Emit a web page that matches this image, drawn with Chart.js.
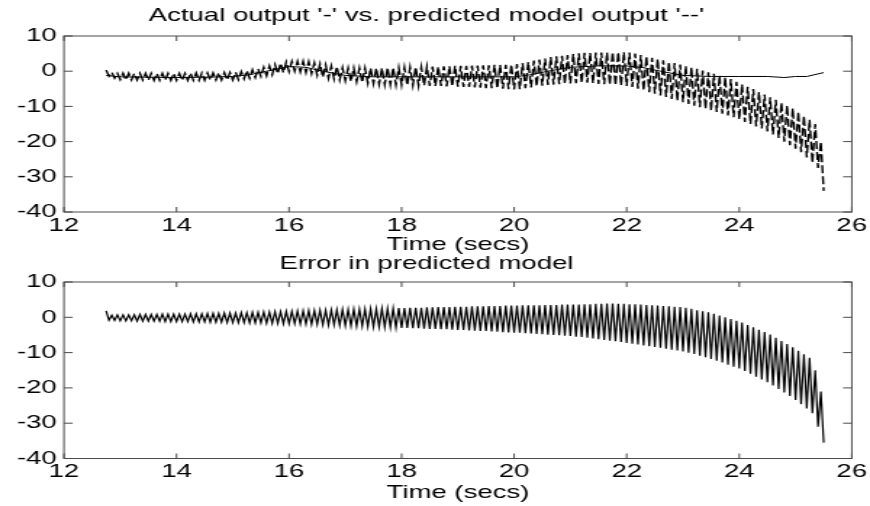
<!DOCTYPE html>
<html>
<head>
<meta charset="utf-8">
<script src="https://cdn.jsdelivr.net/npm/chart.js@4.4.1/dist/chart.umd.min.js"></script>
<style>
  html, body { margin: 0; padding: 0; background: #fff; }
  body { width: 870px; height: 506px; position: relative; overflow: hidden; }
  canvas { position: absolute; left: 0; }
</style>
</head>
<body>
<!-- drawn narrow and stretched sideways, like the wide old plot -->
<canvas id="topPlot" width="600" height="256" style="top:0;width:870px;height:256px"></canvas>
<canvas id="errPlot" width="600" height="258" style="top:248px;width:870px;height:258px"></canvas>
<script>
// sample time of the simulated data
const startTime = 12.75;
const sampleTime = 0.05;

const xTicks = [12, 14, 16, 18, 20, 22, 24, 26];
const yTicks = [-40, -30, -20, -10, 0, 10];

// actual output (solid line)
const actualTime = [12.75, 13, 13.5, 14, 14.5, 15, 15.3, 15.6, 16, 16.3, 16.6, 17, 17.5, 18, 18.5, 19, 19.5, 20,
  20.3, 20.6, 21, 21.5, 22, 22.3, 22.6, 23, 23.5, 24, 24.5, 24.8, 25, 25.2, 25.5];
const actualOut = [-1.2, -1.6, -1.7, -1.8, -1.7, -1.5, -1.0, 0.0, 1.3, 1.1, 0.0, -1.2, -1.6, -1.6, -1.6, -1.6, -1.6, -1.6,
  -1.0, 0.0, 1.1, 1.5, 1.5, 1.0, 0.0, -1.2, -1.5, -1.5, -1.5, -1.8, -1.5, -1.5, -0.4];

// predicted model output (dashed), one value per sample
const predictedOut = [
  0.3,-1.4, -0.3,-2.0, -0.6,-2.4, -0.6,-2.5, -0.6,-2.5, -0.6,-2.5, -0.6,-2.5, -0.6,-2.6, -0.6,-2.6, -0.6,-2.6,
  -0.6,-2.6, -0.6,-2.6, -0.6,-2.6, -0.6,-2.6, -0.6,-2.6, -0.5,-2.6, -0.5,-2.6, -0.5,-2.6, -0.5,-2.5, -0.5,-2.5,
  -0.4,-2.5, -0.4,-2.5, -0.4,-2.5, -0.3,-2.4, -0.1,-2.2, 0.2,-2.0, 0.4,-1.8, 0.7,-1.5, 1.1,-1.3, 1.5,-1.0,
  1.9,-0.7, 2.3,-0.4, 2.6,-0.1, 2.8,0.0, 2.8,-0.2, 2.8,-0.4, 2.7,-0.7, 2.4,-1.2, 2.1,-1.7, 1.8,-2.0,
  1.5,-2.3, 1.3,-2.5, 1.0,-2.7, 0.9,-2.9, 0.9,-3.0, 0.9,-3.2, 0.9,-3.4, 0.9,-3.5, 0.9,-3.7, 0.9,-3.8,
  1.0,-3.8, 1.0,-3.9, 1.0,-3.9, 1.1,-4.0, 1.1,-4.0, 1.2,-4.1, 1.2,-4.1, 1.3,-4.2, 1.3,-4.2, 1.3,-4.2,
  1.4,-4.3, 1.4,-4.3, 1.5,-4.4, 1.5,-4.5, 1.5,-4.5, 1.6,-4.6, 1.6,-4.7, 1.7,-4.8, 1.7,-4.8, 1.8,-4.9,
  1.8,-5.0, 1.8,-5.1, 1.9,-5.2, 2.0,-5.1, 2.3,-4.8, 2.6,-4.6, 3.0,-4.3, 3.3,-4.1, 3.6,-3.9, 4.0,-3.8,
  4.2,-3.7, 4.4,-3.6, 4.6,-3.5, 4.9,-3.4, 5.1,-3.3, 5.2,-3.3, 5.2,-3.4, 5.3,-3.6, 5.3,-3.7, 5.3,-3.8,
  5.4,-4.0, 5.4,-4.1, 5.4,-4.2, 5.3,-4.5, 5.0,-5.0, 4.6,-5.5, 4.2,-6.0, 3.8,-6.4, 3.5,-6.9, 3.1,-7.3,
  2.7,-7.9, 2.3,-8.4, 1.9,-8.8, 1.5,-9.3, 1.1,-9.8, 0.7,-10.2, 0.2,-10.7, -0.3,-11.2, -0.7,-11.6, -1.2,-12.1,
  -1.7,-12.6, -2.2,-13.1, -3.0,-13.7, -3.7,-14.4, -4.4,-15.0, -5.1,-15.7, -5.9,-16.3, -6.6,-17.1, -7.4,-18.0, -8.1,-19.0,
  -8.9,-20.0, -9.7,-21.0, -10.5,-22.0, -11.5,-23.0, -12.7,-24.5, -13.8,-26.0, -15.0,-27.5, -20.0,-34.0
];

// prediction error, one value per sample
const errorOut = [
  1.8,-0.8, 0.6,-0.9, 0.7,-1.0, 0.7,-1.0, 0.7,-1.0, 0.7,-1.1, 0.8,-1.1, 0.8,-1.1, 0.8,-1.1, 0.8,-1.1,
  0.9,-1.2, 0.9,-1.2, 0.9,-1.2, 0.9,-1.2, 0.9,-1.2, 1.0,-1.3, 1.0,-1.3, 1.0,-1.3, 1.1,-1.4, 1.1,-1.4,
  1.1,-1.4, 1.2,-1.5, 1.2,-1.5, 1.2,-1.5, 1.3,-1.5, 1.3,-1.6, 1.4,-1.6, 1.4,-1.6, 1.5,-1.7, 1.5,-1.7,
  1.6,-1.7, 1.6,-1.8, 1.7,-1.8, 1.7,-1.8, 1.8,-1.9, 1.8,-1.9, 1.9,-2.0, 1.9,-2.0, 2.0,-2.1, 2.0,-2.2,
  2.1,-2.2, 2.1,-2.3, 2.2,-2.4, 2.2,-2.4, 2.3,-2.5, 2.3,-2.5, 2.3,-2.6, 2.4,-2.7, 2.4,-2.7, 2.5,-2.8,
  2.5,-2.8, 2.5,-2.9, 2.6,-3.0, 2.6,-3.0, 2.7,-3.1, 2.7,-3.1, 2.7,-3.2, 2.8,-3.3, 2.8,-3.3, 2.9,-3.4,
  2.9,-3.4, 2.9,-3.5, 3.0,-3.6, 3.0,-3.6, 3.0,-3.7, 3.1,-3.8, 3.1,-3.9, 3.1,-3.9, 3.2,-4.0, 3.2,-4.1,
  3.2,-4.2, 3.3,-4.3, 3.3,-4.4, 3.3,-4.4, 3.4,-4.5, 3.4,-4.6, 3.4,-4.7, 3.4,-4.8, 3.5,-4.9, 3.5,-5.0,
  3.5,-5.1, 3.6,-5.2, 3.6,-5.3, 3.6,-5.5, 3.6,-5.6, 3.7,-5.8, 3.7,-6.0, 3.8,-6.2, 3.8,-6.4, 3.9,-6.6,
  3.9,-6.8, 3.8,-7.0, 3.8,-7.3, 3.7,-7.5, 3.7,-7.7, 3.6,-8.0, 3.5,-8.2, 3.4,-8.4, 3.3,-8.6, 3.2,-8.9,
  3.1,-9.2, 3.0,-9.4, 2.9,-9.7, 2.7,-10.0, 2.4,-10.4, 2.0,-10.9, 1.7,-11.3, 1.4,-11.8, 1.0,-12.3, 0.5,-12.8,
  0.0,-13.4, -0.5,-14.0, -1.0,-14.5, -1.5,-15.2, -2.2,-16.0, -2.8,-16.8, -3.5,-17.6, -4.2,-18.4, -4.9,-19.3, -5.8,-20.3,
  -6.7,-21.3, -7.6,-22.3, -8.5,-23.4, -9.5,-24.6, -10.5,-25.8, -11.5,-27.2, -15.0,-31.0, -21.0,-35.5
];

const FONT = 'Arial, "Liberation Sans", Helvetica, sans-serif';

function sampled(values) {
  return values.map((v, i) => ({ x: startTime + i * sampleTime, y: v }));
}

// box round the axes with ticks pointing inwards (matlab look)
const boxTicks = {
  id: 'boxTicks',
  afterDraw(chart) {
    const { ctx, chartArea: a, scales: { x, y } } = chart;
    ctx.save();
    ctx.strokeStyle = '#4a4a4a';
    ctx.lineWidth = 1;
    ctx.strokeRect(a.left, a.top, a.right - a.left, a.bottom - a.top);
    ctx.beginPath();
    xTicks.forEach(v => {
      const px = x.getPixelForValue(v);
      ctx.moveTo(px, a.top); ctx.lineTo(px, a.top + 5);
      ctx.moveTo(px, a.bottom); ctx.lineTo(px, a.bottom - 5);
    });
    yTicks.forEach(v => {
      const py = y.getPixelForValue(v);
      ctx.moveTo(a.left, py); ctx.lineTo(a.left + 6, py);
      ctx.moveTo(a.right, py); ctx.lineTo(a.right - 6, py);
    });
    ctx.stroke();
    ctx.restore();
  }
};

function makeOptions(title, titlePad, xHeight, xTitlePad) {
  return {
    responsive: false,
    devicePixelRatio: 1,
    animation: false,
    layout: { padding: { left: 0, right: 11.7, top: 0, bottom: 0 } },
    plugins: {
      legend: { display: false },
      tooltip: { enabled: false },
      title: {
        display: true,
        text: title,
        color: '#000',
        font: { family: FONT, size: 19, weight: 'normal' },
        padding: titlePad
      }
    },
    scales: {
      x: {
        type: 'linear',
        min: 12, max: 26,
        afterBuildTicks: s => { s.ticks = xTicks.map(v => ({ value: v })); },
        afterFit: s => { s.height = xHeight; },
        grid: { display: false, drawTicks: false },
        border: { display: false },
        ticks: { color: '#000', padding: 2, maxRotation: 0, font: { family: FONT, size: 19 } },
        title: {
          display: true,
          text: 'Time (secs)',
          color: '#000',
          font: { family: FONT, size: 19 },
          padding: { top: 0, bottom: xTitlePad }
        }
      },
      y: {
        min: -40, max: 10,
        afterBuildTicks: s => { s.ticks = yTicks.map(v => ({ value: v })); },
        afterFit: s => { s.width = 44.1; },
        grid: { display: false, drawTicks: false },
        border: { display: false },
        ticks: { color: '#000', padding: 5, font: { family: FONT, size: 19 } }
      }
    }
  };
}

new Chart(document.getElementById('topPlot'), {
  type: 'line',
  data: {
    datasets: [
      {
        label: 'Actual output',
        data: actualTime.map((t, i) => ({ x: t, y: actualOut[i] })),
        borderColor: '#000',
        borderWidth: 1,
        pointRadius: 0,
        tension: 0
      },
      {
        label: 'Predicted model output',
        data: sampled(predictedOut),
        borderColor: '#000',
        borderWidth: 1.4,
        borderDash: [8, 3],
        pointRadius: 0,
        tension: 0
      }
    ]
  },
  options: makeOptions("Actual output '-' vs. predicted model output '--'", { top: 4, bottom: 9.2 }, 44, 0),
  plugins: [boxTicks]
});

new Chart(document.getElementById('errPlot'), {
  type: 'line',
  data: {
    datasets: [{
      label: 'Error',
      data: sampled(errorOut),
      borderColor: '#000',
      borderWidth: 1.2,
      pointRadius: 0,
      tension: 0
    }]
  },
  options: makeOptions('Error in predicted model', { top: 4.2, bottom: 7 }, 47.5, 2),
  plugins: [boxTicks]
});
</script>
</body>
</html>
